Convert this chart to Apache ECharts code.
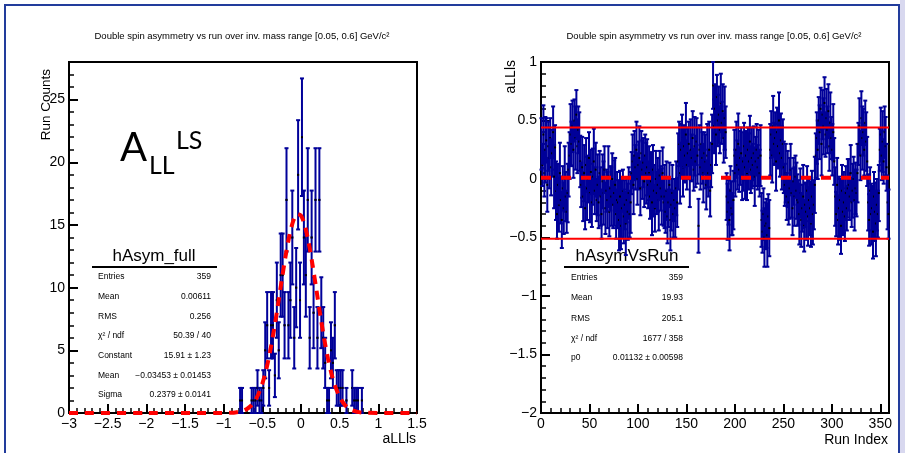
<!DOCTYPE html>
<html><head><meta charset="utf-8">
<script src="https://cdn.jsdelivr.net/npm/echarts@6/dist/echarts.min.js"></script>
<style>html,body{margin:0;padding:0;background:#fff}#c{width:905px;height:453px}</style>
</head><body><div id="c"></div>
<script>
// ---------------- DATA ----------------
const plotTitle = 'Double spin asymmetry vs run over inv. mass range [0.05, 0.6] GeV/c\u00B2';

// Left panel: histogram of aLLls (bin width 0.025), counts per bin
const histBinWidth = 0.025;
const histCenters = [-0.7875,-0.7625,-0.7375,-0.7125,-0.6875,-0.6625,-0.6375,-0.6125,-0.5875,-0.5625,
  -0.5375,-0.5125,-0.4875,-0.4625,-0.4375,-0.4125,-0.3875,-0.3625,-0.3375,-0.3125,
  -0.2875,-0.2625,-0.2375,-0.2125,-0.1875,-0.1625,-0.1375,-0.1125,-0.0875,-0.0625,
  -0.0375,-0.0125,0.0125,0.0375,0.0625,0.0875,0.1125,0.1375,0.1625,0.1875,
  0.2125,0.2375,0.2625,0.2875,0.3125,0.3375,0.3625,0.3875,0.4125,0.4375,
  0.4625,0.4875,0.5125,0.5375,0.5625,0.5875,0.6125,0.6375,0.6625,0.6875,
  0.7125,0.7375,0.7625,0.7875];
const histCounts = [1,1,0,0,0,0,1,1,1,2,
  1,1,2,5,7,2,7,7,3,9,
  5,11,11,7,17,7,9,14,6,10,
  19,9,22,14,11,17,6,14,8,17,
  6,17,8,6,4,1,1,5,4,7,
  2,2,2,2,0,1,0,0,2,1,
  1,1,0,1];

// Gaussian fit curve as drawn (sampled)
const fitX = [-3,-2,-1,-0.9,-0.85,-0.8,-0.75,-0.7,-0.65,-0.6,-0.55,-0.5,-0.45,-0.4,-0.35,-0.3,-0.25,-0.2,-0.15,-0.1,-0.05,0,
  0.05,0.1,0.15,0.2,0.25,0.3,0.35,0.4,0.45,0.5,0.55,0.6,0.65,0.7,0.75,0.8,0.85,1,1.5];
const fitY = [0,0,0,0.02,0.04,0.09,0.17,0.32,0.56,0.94,1.52,2.35,3.46,4.89,6.61,8.54,10.56,12.49,14.14,15.32,15.88,15.74,
  14.94,13.56,11.78,9.79,7.78,5.92,4.31,3.0,2.0,1.27,0.78,0.45,0.25,0.14,0.07,0.03,0.016,0,0];

// Right panel: aLLls per run index (359 runs) and their errors
const runValues = [
  0.30,0.12,0.38,0.05,0.25,0.33,-0.05,0.28,0.18,0.35, 0.10,0.22,0.40,0.02,0.27,
  -0.10,-0.30,-0.05,-0.22,0.05,-0.18,-0.35,-0.08,-0.25,0.00, -0.15,-0.28,-0.12,0.08,
  0.20,0.38,0.30,0.45,0.25,0.50,0.35,0.55,0.28,0.42,0.32,0.15,
  -0.05,0.10,-0.15,0.05,-0.25,0.12,-0.08,0.00,0.18,-0.12,0.06,-0.20,0.02,0.15,-0.10,0.08,-0.18,
  -0.05,-0.20,0.05,-0.15,-0.30,-0.02,-0.12,0.08,-0.25,-0.10,-0.18,0.02,-0.28,-0.08,-0.15,0.00,-0.22,-0.12,-0.05,-0.30,-0.18,
  -0.20,-0.35,-0.15,-0.40,-0.25,-0.10,-0.32,-0.22,-0.38,-0.18,-0.28,-0.12,-0.30,-0.20,
  0.05,0.15,-0.05,0.20,0.10,0.25,0.00,0.12,0.18,-0.08,0.22,0.08,0.14,-0.02,0.20,0.05,0.10,
  -0.05,0.05,-0.15,-0.02,-0.20,0.08,-0.10,-0.25,0.00,-0.12,-0.05,-0.18,0.03,-0.08,-0.15,0.05,-0.20,
  -0.15,-0.28,-0.10,-0.32,-0.20,-0.05,-0.35,-0.22,-0.12,-0.30,-0.18,-0.25,-0.08,-0.20,
  0.15,0.30,0.05,0.25,0.35,0.10,0.28,0.20,0.38,0.12,0.22,0.30,0.00,0.25,0.18,0.35,0.08,0.28,0.15,0.32,0.20,-0.40,0.25,0.10,0.30,0.18,0.05,0.22,
  0.15,-0.05,0.20,0.05,0.25,-0.10,0.12,0.30,
  0.80,0.45,0.60,0.38,0.70,0.50,0.55,0.42,0.65,0.48,0.58,0.35,0.52,0.40,
  -0.15,-0.28,-0.20,-0.35,-0.10,-0.25,-0.30,-0.18,
  0.20,0.05,0.25,0.12,0.30,0.08,0.18,0.22,0.00,0.15,0.28,0.10,0.20,0.05,0.25,0.15,0.32,0.08,0.18,0.12,0.22,0.02,0.15,0.25,0.10,0.18,0.05,0.20,
  -0.35,-0.45,-0.30,-0.50,-0.40,-0.38,-0.48,-0.32,-0.42,
  0.25,0.38,0.20,0.45,0.30,0.35,0.15,0.40,0.28,0.50,0.22,0.33,0.18,0.30,0.10,
  -0.05,0.05,-0.15,0.00,-0.20,-0.08,0.08,-0.12,-0.25,-0.02,-0.15,0.02,-0.10,-0.18,
  -0.20,-0.30,-0.12,-0.35,-0.25,-0.15,-0.40,-0.22,-0.28,-0.10,-0.32,-0.18,-0.25,-0.38,-0.15,-0.30,-0.22,-0.05,
  0.20,0.35,0.25,0.50,0.40,0.60,0.30,0.55,0.45,0.65,0.38,0.52,0.42,0.58,0.28,0.48,0.35,0.25,0.40,0.15,
  -0.15,-0.30,-0.05,-0.35,-0.25,-0.18,-0.40,-0.10,-0.28,-0.20,-0.32,-0.12,-0.25,-0.08,
  -0.05,-0.15,0.05,-0.20,-0.10,0.00,-0.18,-0.08,-0.12,0.05,
  0.30,0.45,0.20,0.52,0.35,0.40,0.25,0.48,0.32,0.15,
  -0.20,-0.35,-0.10,-0.30,-0.25,-0.45,-0.15,-0.28,-0.38,-0.22,-0.30,-0.12,
  0.25,0.38,0.20,0.32,0.15,0.40,0.28,0.10,
  -0.20,-0.30];
const runErrors = [
  0.22,0.18,0.25,0.20,0.28,0.19,0.23,0.21,0.26,0.17,0.24,0.20,0.22,0.27,0.19,0.25,0.21,0.18,0.23,0.26,
  0.20,0.24,0.19,0.22,0.28,0.21,0.18,0.25,0.23,0.20,0.26,0.19,0.22,0.24,0.18,0.27,0.21,0.23,0.20,0.25,
  0.22,0.19,0.26,0.21,0.24,0.18,0.23,0.27,0.20,0.22,0.25,0.19,0.21,0.24,0.28,0.20,0.23,0.18,0.26,0.22,
  0.19,0.25,0.21,0.23,0.27,0.20,0.22,0.18,0.24,0.26,0.21,0.19,0.25,0.22,0.20,0.28,0.23,0.21,0.24,0.19,
  0.26,0.22,0.20,0.25,0.18,0.23,0.21,0.27,0.19,0.24,0.22,0.20,0.26,0.18,0.23,0.25,0.21,0.19,0.24,0.22,
  0.20,0.27,0.23,0.19,0.25,0.21,0.22,0.18,0.26,0.24,0.20,0.23,0.19,0.25,0.28,0.21,0.22,0.20,0.24,0.18,
  0.23,0.26,0.21,0.19,0.24,0.22,0.20,0.27,0.18,0.25,0.23,0.21,0.19,0.26,0.22,0.24,0.20,0.18,0.25,0.23,
  0.21,0.24,0.19,0.26,0.22,0.20,0.25,0.18,0.23,0.27,0.21,0.22,0.19,0.24,0.26,0.20,0.23,0.18,0.25,0.22,
  0.20,0.24,0.23,0.21,0.19,0.26,0.22,0.25,0.18,0.23,0.21,0.27,0.20,0.24,0.22,0.19,0.25,0.20,0.23,0.21,
  0.26,0.19,0.22,0.24,0.20,0.25,0.18,0.23,0.21,0.27,0.22,0.20,0.24,0.19,0.26,0.21,0.23,0.18,0.25,0.22,
  0.20,0.24,0.21,0.26,0.19,0.23,0.22,0.18,0.25,0.20,0.27,0.21,0.23,0.19,0.24,0.22,0.20,0.26,0.18,0.23,
  0.25,0.21,0.22,0.19,0.24,0.20,0.26,0.23,0.18,0.22,0.25,0.20,0.21,0.27,0.19,0.24,0.22,0.20,0.23,0.26,
  0.18,0.22,0.25,0.21,0.19,0.24,0.20,0.23,0.27,0.21,0.22,0.18,0.25,0.20,0.24,0.19,0.26,0.22,0.21,0.23,
  0.20,0.25,0.18,0.24,0.22,0.19,0.26,0.21,0.23,0.20,0.27,0.22,0.19,0.24,0.21,0.25,0.18,0.23,0.20,0.22,
  0.26,0.21,0.24,0.19,0.22,0.25,0.20,0.23,0.18,0.27,0.21,0.24,0.22,0.19,0.25,0.20,0.23,0.21,0.26,0.18,
  0.22,0.24,0.20,0.25,0.19,0.23,0.21,0.27,0.18,0.24,0.22,0.20,0.26,0.21,0.23,0.19,0.25,0.22,0.20,0.24,
  0.21,0.23,0.19,0.26,0.22,0.20,0.25,0.18,0.24,0.21,0.23,0.27,0.20,0.22,0.19,0.25,0.21,0.24,0.22,0.20,
  0.26,0.19,0.23,0.21,0.25,0.28,0.22,0.20,0.24,0.18,0.23,0.21,0.26,0.19,0.22,0.25,0.20,0.23,0.21];
const p0Value = 0.01132;
const upperLine = 0.44;
const lowerLine = -0.51;

// Stats boxes
const statsLeftTitle = 'hAsym_full';
const statsLeftLabels = ['Entries','Mean','RMS','\u03C7\u00B2 / ndf','Constant','Mean','Sigma'];
const statsLeftValues = ['359','0.00611','0.256','50.39 / 40','15.91 \u00B1 1.23','\u22120.03453 \u00B1 0.01453','0.2379 \u00B1 0.0141'];
const statsRightTitle = 'hAsymVsRun';
const statsRightLabels = ['Entries','Mean','RMS','\u03C7\u00B2 / ndf','p0'];
const statsRightValues = ['359','19.93','205.1','1677 / 358','0.01132 \u00B1 0.00598'];

// ---------------- CHART ----------------
const NAVY = '#000099';
const FONT = '"Liberation Sans", Arial, sans-serif';
const chart = echarts.init(document.getElementById('c'), null, {renderer:'canvas'});

function fmtNum(v){ const s = String(Math.round(v*1000)/1000); return v < 0 ? '\u2212' + s.slice(1) : s; }

function axisCommon(showMax){
  return {
    axisLine:{show:true, onZero:false, lineStyle:{color:'#000', width:2}},
    axisTick:{show:true, inside:true, length:9, lineStyle:{color:'#000', width:2}},
    minorTick:{show:true, splitNumber:5, length:5, lineStyle:{color:'#000', width:1.5}},
    splitLine:{show:false}, minorSplitLine:{show:false},
    axisLabel:{color:'#000', fontSize:14, fontFamily:FONT, margin:4, formatter:fmtNum, showMaxLabel:showMax, showMinLabel:true}
  };
}

function errRender(binHalf){
  return function(params, api){
    const x = api.value(0), y = api.value(1), e = api.value(2);
    const cs = params.coordSys;
    const p = api.coord([x, y]);
    let yt = api.coord([x, y + e])[1], yb = api.coord([x, y - e])[1];
    const topClip = yt < cs.y, botClip = yb > cs.y + cs.height;
    yt = Math.max(yt, cs.y); yb = Math.min(yb, cs.y + cs.height);
    const ch = [];
    ch.push({type:'line', shape:{x1:p[0], y1:yt, x2:p[0], y2:yb}, style:{stroke:NAVY, lineWidth:2}});
    if (!topClip) ch.push({type:'line', shape:{x1:p[0]-2, y1:yt, x2:p[0]+2, y2:yt}, style:{stroke:NAVY, lineWidth:2}});
    if (!botClip) ch.push({type:'line', shape:{x1:p[0]-2, y1:yb, x2:p[0]+2, y2:yb}, style:{stroke:NAVY, lineWidth:2}});
    if (binHalf) {
      const l = api.coord([x - binHalf, y])[0], r = api.coord([x + binHalf, y])[0];
      ch.push({type:'line', shape:{x1:l, y1:p[1], x2:r, y2:p[1]}, style:{stroke:NAVY, lineWidth:2}});
    }
    if (p[1] >= cs.y && p[1] <= cs.y + cs.height)
      ch.push({type:'rect', shape:{x:p[0]-1, y:p[1]-1, width:2, height:2}, style:{fill:'#000'}});
    return {type:'group', children:ch};
  };
}

const histData = [];
histCenters.forEach((c, i) => { if (histCounts[i] > 0) histData.push([c, histCounts[i], Math.sqrt(histCounts[i])]); });
const runData = runValues.map((v, i) => [i + 0.5, v, runErrors[i]]);
const fitData = fitX.map((x, i) => [x, fitY[i]]);

function txt(text, x, y, opt){
  return {type:'text', silent:true, style:Object.assign({text, x, y, fill:'#000', font:'14px ' + FONT, textAlign:'left', textVerticalAlign:'middle'}, opt||{})};
}

const graphics = [
  {type:'rect', shape:{x:5, y:5, width:894, height:470}, style:{fill:'none', stroke:'#223c9c', lineWidth:2}, silent:true, z:-1},
  {type:'rect', shape:{x:900, y:0, width:5, height:453}, style:{fill:'#d8d8ef'}, silent:true, z:-1},
  txt(plotTitle, 242, 36, {font:'9.5px ' + FONT, textAlign:'center'}),
  txt(plotTitle, 714, 36, {font:'9.5px ' + FONT, textAlign:'center'}),
  {type:'text', silent:true, rotation:Math.PI/2, x:46, y:69, style:{text:'Run Counts', x:0, y:0, font:'13.5px ' + FONT, textAlign:'right', textVerticalAlign:'middle', fill:'#000'}},
  {type:'text', silent:true, rotation:Math.PI/2, x:511, y:60, style:{text:'aLLls', x:0, y:0, font:'14px ' + FONT, textAlign:'right', textVerticalAlign:'middle', fill:'#000'}},
  txt('aLLls', 416, 439, {textAlign:'right'}),
  txt('Run Index', 888, 440, {textAlign:'right'}),
  txt('A', 120, 148, {font:'40px Lato, ' + FONT}),
  txt('LL', 149, 166, {font:'25px Lato, ' + FONT}),
  txt('LS', 176, 141, {font:'25px Lato, ' + FONT}),
  txt(statsLeftTitle, 154, 256, {font:'17px ' + FONT, textAlign:'center'}),
  {type:'line', silent:true, shape:{x1:92, y1:267, x2:217, y2:267}, style:{stroke:'#000', lineWidth:2}},
  txt(statsRightTitle, 627, 256, {font:'17px ' + FONT, textAlign:'center'}),
  {type:'line', silent:true, shape:{x1:564, y1:267, x2:689, y2:267}, style:{stroke:'#000', lineWidth:2}}
];
const leftRowsY = [277, 297, 317, 336, 356, 376, 395];
statsLeftLabels.forEach((l, i) => {
  graphics.push(txt(l, 98, leftRowsY[i], {font:'8.5px ' + FONT}));
  graphics.push(txt(statsLeftValues[i], 211, leftRowsY[i], {font:'8.5px ' + FONT, textAlign:'right'}));
});
const rightRowsY = [278, 298, 319, 339, 358];
statsRightLabels.forEach((l, i) => {
  graphics.push(txt(l, 571, rightRowsY[i], {font:'8.5px ' + FONT}));
  graphics.push(txt(statsRightValues[i], 683, rightRowsY[i], {font:'8.5px ' + FONT, textAlign:'right'}));
});

const option = {
  animation:false,
  backgroundColor:'#fff',
  grid:[
    {left:69, top:62, width:348, height:351, show:true, borderColor:'#000', borderWidth:2, backgroundColor:'transparent'},
    {left:541, top:62, width:348, height:351, show:true, borderColor:'#000', borderWidth:2, backgroundColor:'transparent'}
  ],
  xAxis:[
    Object.assign(axisCommon(true), {gridIndex:0, type:'value', min:-3, max:1.5, interval:0.5}),
    Object.assign(axisCommon(false), {gridIndex:1, type:'value', min:0, max:359, interval:50})
  ],
  yAxis:[
    Object.assign(axisCommon(false), {gridIndex:0, type:'value', min:0, max:28, interval:5}),
    Object.assign(axisCommon(true), {gridIndex:1, type:'value', min:-2, max:1, interval:0.5})
  ],
  graphic:graphics,
  series:[
    {type:'custom', xAxisIndex:0, yAxisIndex:0, data:histData, renderItem:errRender(histBinWidth/2), encode:{x:0, y:1}, z:2},
    {type:'line', xAxisIndex:0, yAxisIndex:0, data:fitData, showSymbol:false, symbol:'none', smooth:0.3,
      lineStyle:{color:'#ff0000', width:4, type:[9,7]}, z:3},
    {type:'custom', xAxisIndex:1, yAxisIndex:1, data:runData, renderItem:errRender(0), encode:{x:0, y:1}, z:2},
    {type:'line', xAxisIndex:1, yAxisIndex:1, data:[[0, upperLine],[359, upperLine]], symbol:'none', lineStyle:{color:'#ff0000', width:2}, z:3},
    {type:'line', xAxisIndex:1, yAxisIndex:1, data:[[0, lowerLine],[359, lowerLine]], symbol:'none', lineStyle:{color:'#ff0000', width:2}, z:3},
    {type:'line', xAxisIndex:1, yAxisIndex:1, data:[[0, p0Value],[359, p0Value]], symbol:'none', lineStyle:{color:'#ff0000', width:4, type:[10,10]}, z:3}
  ]
};
chart.setOption(option);
</script>
</body></html>
